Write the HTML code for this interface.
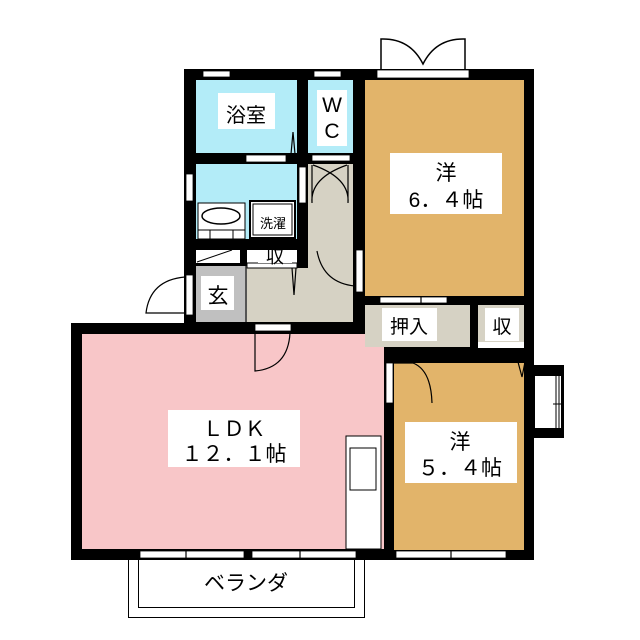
<!DOCTYPE html>
<html><head><meta charset="utf-8"><style>
html,body{margin:0;padding:0;background:#fff;width:640px;height:640px;overflow:hidden}
text{font-family:"Liberation Sans","Noto Sans CJK JP",sans-serif;fill:#000}
</style></head><body>
<svg width="640" height="640" viewBox="0 0 640 640" xmlns="http://www.w3.org/2000/svg">
<!-- balcony -->
<rect x="128.5" y="556.5" width="236" height="61" fill="#fff" stroke="#000"/>
<rect x="138.5" y="556.5" width="216" height="51" fill="#fff" stroke="#000"/>
<!-- top double door -->
<path d="M381 69 V39 Q410 38 423 64 Q436 38 465 39 V69" fill="#fff" stroke="#000" stroke-width="1.5"/>
<!-- bay window right -->
<rect x="532" y="365" width="32" height="73" fill="#000"/>
<rect x="535" y="376" width="26" height="52" fill="#fff"/>
<line x1="556" y1="376" x2="556" y2="428" stroke="#000"/><line x1="559" y1="376" x2="559" y2="428" stroke="#000"/>
<line x1="553" y1="404" x2="564" y2="404" stroke="#000"/>
<!-- black base walls -->
<rect x="184" y="69" width="350" height="254" fill="#000"/>
<rect x="71" y="323" width="463" height="237" fill="#000"/>
<!-- rooms -->
<rect x="196" y="80" width="101" height="73" fill="#b3ecf8"/>
<rect x="308" y="80" width="45" height="73" fill="#b3ecf8"/>
<rect x="365" y="80" width="159" height="216" fill="#e2b46a"/>
<rect x="196" y="164" width="101" height="75" fill="#b3ecf8"/>
<rect x="308" y="164" width="45" height="148" fill="#d6d2c4"/>
<rect x="247" y="268" width="106" height="54" fill="#d6d2c4"/>
<rect x="196" y="266" width="49" height="56" fill="#c0c0c0"/>
<rect x="245" y="266" width="2" height="56" fill="#555"/>
<rect x="247" y="250" width="50" height="13" fill="#fff"/>
<rect x="247" y="263" width="50" height="5" fill="#fff" stroke="#000" stroke-width="1"/>
<rect x="196" y="250" width="44" height="13" fill="#fff"/>
<line x1="197" y1="262" x2="232" y2="250" stroke="#000"/>
<rect x="82" y="334" width="302" height="215" fill="#f8c6c8"/>
<rect x="365" y="305" width="105" height="42" fill="#d6d2c4"/>
<rect x="478" y="305" width="46" height="37" fill="#d6d2c4"/>
<rect x="478" y="342" width="46" height="6" fill="#fff"/>
<rect x="394" y="363" width="130" height="187" fill="#e2b46a"/>
<!-- washroom fixtures -->
<rect x="198" y="203" width="47" height="36" fill="#fff" stroke="#000"/>
<ellipse cx="221" cy="216" rx="19" ry="8" fill="#fff" stroke="#000" stroke-width="1.5"/>
<line x1="198" y1="230" x2="245" y2="230" stroke="#000"/>
<line x1="210" y1="230" x2="210" y2="239" stroke="#000"/><line x1="233" y1="230" x2="233" y2="239" stroke="#000"/>
<rect x="250" y="201" width="45" height="37" fill="#fff" stroke="#000" stroke-width="2"/>
<rect x="253" y="204" width="39" height="31" fill="#fff" stroke="#000"/>
<!-- kitchen counter -->
<rect x="346" y="436" width="35" height="113" fill="#fff" stroke="#000"/>
<rect x="350" y="448" width="26" height="42" fill="#fff" stroke="#000"/>
<!-- windows / openings (white) -->
<g fill="#fff" stroke="#000" stroke-width="0.8">
<rect x="203" y="71" width="27" height="6"/><rect x="314" y="71" width="27" height="6"/><rect x="377" y="70" width="92" height="8"/>
<rect x="246" y="155" width="40" height="7"/><rect x="312" y="155" width="38" height="6"/>
<rect x="186" y="174" width="7" height="27"/><rect x="299" y="167" width="7" height="36"/>
<rect x="186" y="275" width="7" height="40"/><rect x="255" y="324" width="36" height="7"/>
<rect x="356" y="250" width="7" height="42"/><rect x="386" y="363" width="7" height="40"/>
<rect x="380" y="297" width="67" height="6"/>
<rect x="140" y="551" width="104" height="7"/><rect x="252" y="551" width="104" height="7"/>
<rect x="396" y="551" width="110" height="7"/>
</g>
<g stroke="#000" stroke-width="1.2" fill="none">
<line x1="186" y1="551" x2="186" y2="558"/><line x1="300" y1="551" x2="300" y2="558"/><line x1="451" y1="551" x2="451" y2="558"/><line x1="421" y1="297" x2="421" y2="303"/>
<!-- door arcs -->
<path d="M185 277 Q150 280 146 313 H185"/>
<path d="M255 333 V371 Q288 368 290 333"/>
<path d="M394 363 H413 Q431 370 432 403"/>
<path d="M317 251 Q323 283 355 286"/>
<path d="M312 165 V203 Q310 178 347 165 M348 165 V203 Q350 178 313 165"/>
<path d="M291 154 L293 132 L295 154"/>
<path d="M292 268 L294 295 L296 268"/>
<path d="M518 362 L522 377 L525 362"/>
</g>
<!-- labels -->
<g fill="#fff">
<rect x="218" y="93" width="57" height="36"/><rect x="317" y="90" width="30" height="56"/>
<rect x="390" y="153" width="112" height="61"/><rect x="257" y="210" width="32" height="24"/>
<rect x="258" y="250" width="34" height="13"/><rect x="201" y="276" width="33" height="34"/>
<rect x="382" y="308" width="55" height="33"/><rect x="485" y="308" width="34" height="33"/>
<rect x="168" y="410" width="132" height="57"/><rect x="405" y="422" width="112" height="61"/>
</g>
<text x="246" y="122" font-size="20" text-anchor="middle">浴室</text>
<text x="332" y="112" font-size="21" text-anchor="middle">W</text>
<text x="332" y="138" font-size="21" text-anchor="middle">C</text>
<text x="446" y="180" font-size="21" text-anchor="middle">洋</text>
<text x="446" y="207" font-size="21" text-anchor="middle">6．４帖</text>
<text x="273" y="228" font-size="13" text-anchor="middle">洗濯</text>
<text x="275" y="263" font-size="18" text-anchor="middle">収</text>
<text x="218" y="303" font-size="21" text-anchor="middle">玄</text>
<text x="409" y="333" font-size="19" text-anchor="middle">押入</text>
<text x="502" y="333" font-size="19" text-anchor="middle">収</text>
<text x="234" y="436" font-size="21" text-anchor="middle">ＬＤＫ</text>
<text x="234" y="461" font-size="21" text-anchor="middle">１２．１帖</text>
<text x="460" y="449" font-size="21" text-anchor="middle">洋</text>
<text x="460" y="475" font-size="21" text-anchor="middle">５．４帖</text>
<text x="246" y="590" font-size="21" text-anchor="middle">ベランダ</text>
</svg>
</body></html>
